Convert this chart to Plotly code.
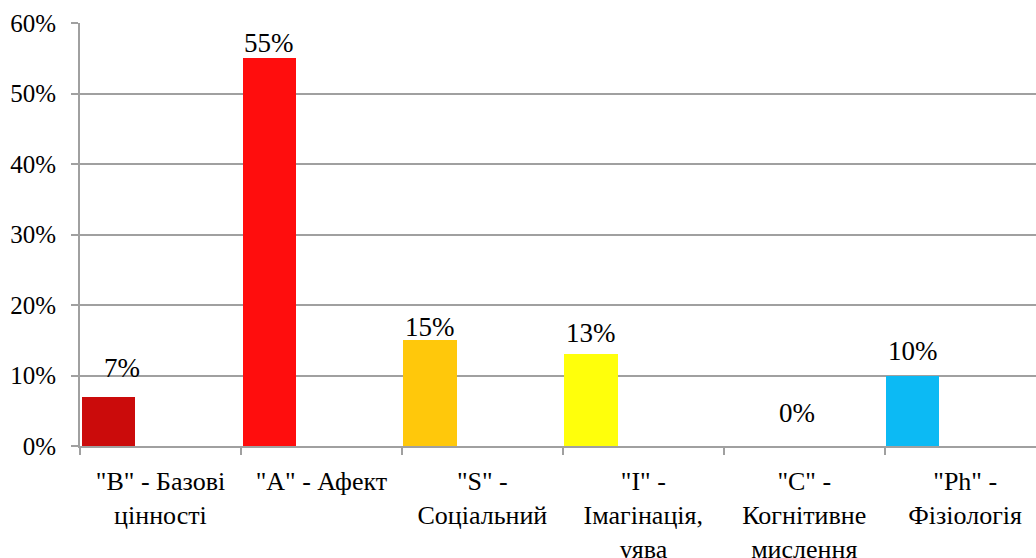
import plotly.graph_objects as go

categories = ["B", "A", "S", "I", "C", "Ph"]
tick_labels = [
    "\"B\" - Базові<br>цінності",
    "\"A\" - Афект",
    "\"S\" -<br>Соціальний",
    "\"I\" -<br>Імагінація,<br>уява",
    "\"C\" -<br>Когнітивне<br>мислення",
    "\"Ph\" -<br>Фізіологія",
]
values = [0.07, 0.55, 0.15, 0.13, 0.0, 0.10]
colors = ["#CB0B0B", "#FF0D0D", "#FFC80B", "#FFFF0B", "#FFFFFF", "#0CBAF4"]

# label placement tweaks (pixels), relative to bar centre / bar top
label_dx = [14, 0, 0, 0, 45, 0]
label_dy = [29, 15, 13, 21, 33, 25]

FONT = "Times New Roman, Liberation Serif, serif"
BAR_OFFSET = -0.49
BAR_WIDTH = 0.33

fig = go.Figure()
fig.add_trace(go.Bar(
    x=categories, y=values,
    marker=dict(color=colors, line=dict(width=0)),
    offset=BAR_OFFSET, width=BAR_WIDTH,
    showlegend=False, hoverinfo="skip",
))

for i, v in enumerate(values):
    fig.add_annotation(
        x=i + BAR_OFFSET + BAR_WIDTH / 2, y=v, xref="x", yref="y",
        text=f"{v:.0%}", showarrow=False,
        xanchor="center", yanchor="middle",
        xshift=label_dx[i], yshift=label_dy[i],
        font=dict(family=FONT, size=27, color="#000000"),
    )

fig.update_layout(
    width=1036, height=558,
    margin=dict(l=80, r=0, t=23, b=112, autoexpand=False),
    paper_bgcolor="white", plot_bgcolor="white",
    bargap=0,
    font=dict(family=FONT, color="#000000"),
)
fig.update_xaxes(
    type="category", automargin=False,
    tickmode="array", tickvals=categories, ticktext=tick_labels,
    range=[-0.5, 5.44],
    tickson="boundaries", ticks="outside", ticklen=7, tickwidth=2, tickcolor="#A0A0A0",
    showline=True, linecolor="#A0A0A0", linewidth=2,
    showgrid=False,
    tickfont=dict(family=FONT, size=26, color="#000000"),
    ticklabelstandoff=11,
)
fig.update_yaxes(
    automargin=False,
    range=[0, 0.6], dtick=0.1, tickformat=".0%",
    showgrid=True, gridcolor="#A0A0A0", gridwidth=2,
    showline=True, linecolor="#A0A0A0", linewidth=2,
    ticks="outside", ticklen=7, tickwidth=2, tickcolor="#A0A0A0",
    tickfont=dict(family=FONT, size=25, color="#000000"),
    ticklabelstandoff=10,
    zeroline=False,
)

fig.write_html("out.html", config={"displayModeBar": False},
               post_script="document.body.style.margin='0';")
